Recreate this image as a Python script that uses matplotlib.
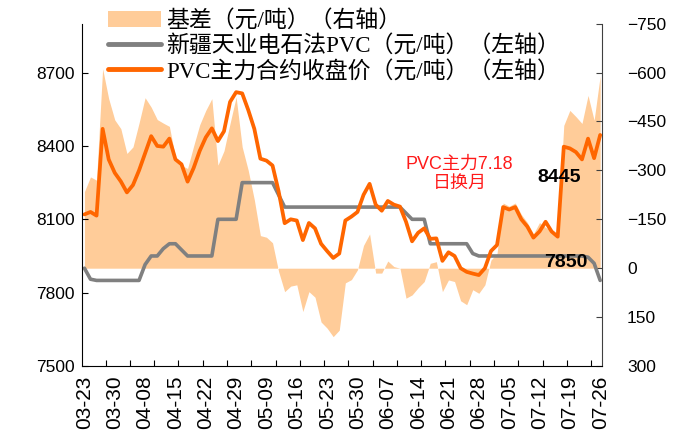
import matplotlib
matplotlib.use("Agg")
import matplotlib.pyplot as plt
from matplotlib.font_manager import FontProperties
import numpy as np

# ── data ─────────────────────────────────────────────────────────────────────
date_labels = ["03-23", "03-30", "04-08", "04-15", "04-22", "04-29", "05-09",
               "05-16", "05-23", "05-30", "06-07", "06-14", "06-21", "06-28",
               "07-05", "07-12", "07-19", "07-26"]

# PVC main futures close (yuan/t, left axis)
pvc_main = [8120, 8130, 8115, 8470, 8345, 8290, 8255, 8210, 8240, 8300,
            8370, 8440, 8400, 8397, 8430, 8345, 8325, 8254, 8310, 8380,
            8435, 8472, 8420, 8460, 8580, 8620, 8615, 8547, 8470, 8348,
            8340, 8320, 8215, 8084, 8100, 8095, 8015, 8085, 8063, 8000,
            7970, 7942, 7960, 8095, 8111, 8130, 8200, 8245, 8160, 8135,
            8175, 8160, 8152, 8090, 8010, 8045, 8063, 8020, 8022, 7930,
            7965, 7950, 7900, 7885, 7878, 7872, 7900, 7970, 7995, 8150,
            8140, 8150, 8100, 8070, 8025, 8050, 8090, 8050, 8029, 8397,
            8390, 8375, 8345, 8430, 8350, 8445]

# Xinjiang Tianye carbide-process PVC spot (yuan/t, left axis)
xinjiang_spot = [7900, 7855, 7850, 7850, 7850, 7850, 7850, 7850, 7850, 7850,
                 7915, 7950, 7950, 7980, 8000, 8000, 7975, 7950, 7950, 7950,
                 7950, 7950, 8100, 8100, 8100, 8100, 8250, 8250, 8250, 8250,
                 8250, 8250, 8200, 8150, 8150, 8150, 8150, 8150, 8150, 8150,
                 8150, 8150, 8150, 8150, 8150, 8150, 8150, 8150, 8150, 8150,
                 8150, 8150, 8150, 8125, 8100, 8100, 8100, 8000, 8000, 8000,
                 8000, 8000, 8000, 8000, 7960, 7950, 7950, 7950, 7950, 7950,
                 7950, 7950, 7950, 7950, 7950, 7950, 7950, 7950, 7950, 7950,
                 7950, 7950, 7950, 7945, 7920, 7850]

# basis (yuan/t, right axis, inverted)
basis = [-235, -280, -270, -612, -520, -455, -428, -352, -372, -445,
         -523, -494, -456, -445, -435, -340, -315, -306, -375, -440,
         -484, -520, -316, -360, -444, -525, -372, -300, -210, -100,
         -95, -78, 10, 72, 55, 51, 133, 72, 89, 165,
         184, 210, 190, 45, 35, 5, -70, -105, 15, 15,
         -22, -5, 0, 92, 82, 60, 41, -15, -20, 72,
         36, 41, 100, 112, 66, 77, 51, -25, -45, -200,
         -190, -200, -165, -140, -105, -140, -125, -115, -105, -438,
         -484, -465, -444, -530, -454, -590]

LABEL_STEP = 5
TICK_STEP = 4

plt.rcParams["font.family"] = ["Liberation Sans", "Noto Sans CJK SC"]

# ── plot ──────────────────────────────────────────────────────────────────────
fig = plt.figure(figsize=(6.73, 4.45), dpi=100)
ax = fig.add_axes([82 / 673, 1 - 366 / 445, 520 / 673, 342.3 / 445])
ax2 = ax.twinx()
ax.set_zorder(ax2.get_zorder() + 1)
ax.patch.set_visible(False)

x = np.arange(len(pvc_main))
area = ax2.fill_between(x, basis, 0, color="#FFCC99", lw=0,
                        label="基差（元/吨）（右轴）")
l_spot, = ax.plot(x, xinjiang_spot, color="#808080", lw=2.6,
                  solid_joinstyle="round", solid_capstyle="round",
                  label="新疆天业电石法PVC（元/吨）（左轴）")
l_main, = ax.plot(x, pvc_main, color="#FF6600", lw=2.7,
                  solid_joinstyle="round", solid_capstyle="round",
                  label="PVC主力合约收盘价（元/吨）（左轴）")

ax.set_xlim(-0.4, len(x) - 0.7)
ax.set_ylim(7500, 8900)
ax.set_yticks([7500, 7800, 8100, 8400, 8700])
ax2.set_ylim(300, -750)
ax2.set_yticks([-750, -600, -450, -300, -150, 0, 150, 300])

ax.set_xticks(x[::LABEL_STEP])
ax.set_xticklabels(date_labels, rotation=90)
ax.set_xticks(np.arange(TICK_STEP - 0.5, len(x), TICK_STEP), minor=True)
ax.tick_params(axis="x", which="major", length=0, labelsize=15, pad=7)
ax.tick_params(axis="x", which="minor", direction="in", length=4, width=0.8)
ax.tick_params(axis="y", direction="in", length=4, width=0.8, labelsize=12.5, pad=5)
ax2.tick_params(axis="y", direction="in", length=4, width=0.8, labelsize=12.5,
                pad=18, colors="#404040", labelcolor="black")

for s in ["top", "right"]:
    ax.spines[s].set_visible(False)
for s in ["top", "left", "bottom"]:
    ax2.spines[s].set_visible(False)
ax2.spines["right"].set_color("#404040")

legend_font = FontProperties(family=["Liberation Serif", "Noto Sans CJK SC"], size=16.5)
leg = ax.legend(handles=[area, l_spot, l_main], prop=legend_font, frameon=False,
                loc="upper left", bbox_to_anchor=(108 / 673, 1 - 10 / 445),
                bbox_transform=fig.transFigure, borderpad=0, borderaxespad=0,
                handlelength=2.3, handleheight=0.7, handletextpad=0.25,
                labelspacing=0.14)
for line in leg.get_lines():
    line.set_linewidth(3.5)

ax.text(61.8, 8287, "PVC主力7.18\n日换月", color="#FF1A1A", fontsize=13,
        ha="center", va="center", linespacing=1.15)
ax.text(78.3, 8273, "8445", fontsize=14, fontweight="bold", ha="center", va="center")
ax.text(79.3, 7925, "7850", fontsize=14, fontweight="bold", ha="center", va="center")

fig.savefig("out.png", dpi=100)
